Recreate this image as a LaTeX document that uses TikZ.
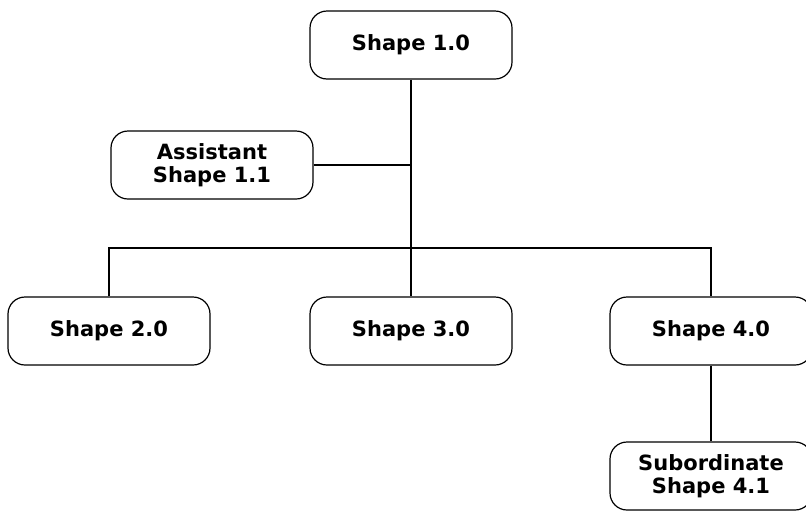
\documentclass[tikz,border=0pt]{standalone}
\usepackage{fontspec}
\setmainfont{DejaVu Sans}

\tikzset{
    shapebox/.style={draw, line width=1.2pt, rounded corners=17pt, fill=white,
        minimum width=202pt, minimum height=68pt, align=center,
        font=\fontsize{21}{23}\selectfont\bfseries},
    link/.style={line width=1.2pt}
}

\begin{document}
\begin{tikzpicture}[x=1pt,y=-1pt]
    \useasboundingbox (0,0) rectangle (806,512);

    % Top shape and assistant
    \node[shapebox] (top) at (411,45) {Shape 1.0};
    \node[shapebox] (assist) at (212,165) {Assistant\\Shape 1.1};

    % Second level
    \node[shapebox] (s2) at (109,331) {Shape 2.0};
    \node[shapebox] (s3) at (411,331) {Shape 3.0};
    \node[shapebox] (s4) at (711,331) {Shape 4.0};

    % Subordinate
    \node[shapebox] (sub) at (711,476) {Subordinate\\Shape 4.1};

    % Junctions on the trunk
    \coordinate (ajoin) at (top.south |- assist.east);
    \coordinate (bar) at (411,248);

    % Connectors
    \draw[link] (top.south) -- (bar) -- (s3.north);
    \draw[link] (assist.east) -- (ajoin);
    \draw[link] (s2.north) |- (bar) -| (s4.north);
    \draw[link] (s4.south) -- (sub.north);
\end{tikzpicture}
\end{document}
